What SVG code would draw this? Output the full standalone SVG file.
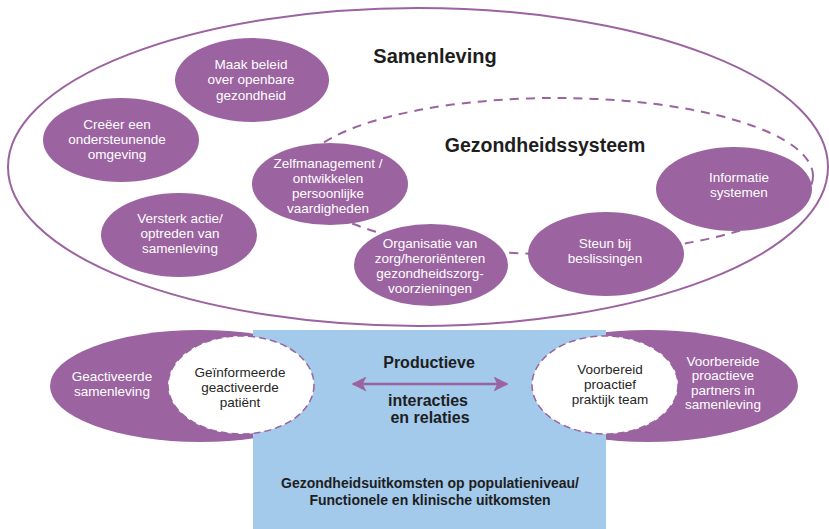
<svg xmlns="http://www.w3.org/2000/svg" width="829" height="529" viewBox="0 0 829 529">
  <style>
    .node { fill: #9b63a0; }
    .lbl { font-family: "Liberation Sans", Arial, sans-serif; font-size: 13.5px; fill: #ffffff; text-anchor: middle; }
    .dark { fill: #262626; }
    .title { font-family: "Liberation Sans", Arial, sans-serif; font-weight: bold; fill: #1e1e1e; text-anchor: middle; }
    .ring { fill: none; stroke: #9b63a0; stroke-width: 2; }
    .dash { fill: none; stroke: #9b63a0; stroke-width: 2; stroke-dasharray: 9 7; }
    .wdash { fill: #ffffff; stroke: #9b63a0; stroke-width: 1.5; stroke-dasharray: 7 4; }
  </style>
  <defs>
    <marker id="ah" viewBox="0 0 10 10" refX="9" refY="5" markerWidth="6" markerHeight="6" orient="auto-start-reverse" markerUnits="strokeWidth">
      <path d="M0,0 L10,5 L0,10 L2.5,5 Z" fill="#9b63a0"/>
    </marker>
  </defs>

  <rect width="829" height="529" fill="#ffffff"/>

  <!-- outer society ellipse and dashed health-system ellipse -->
  <g id="samenleving">
    <ellipse class="ring" cx="418" cy="167" rx="410" ry="159"/>
    <text class="title" x="435" y="63" font-size="20">Samenleving</text>
  </g>
  <g id="gezondheidssysteem">
    <ellipse class="dash" cx="556" cy="176" rx="257" ry="78"/>
    <text class="title" x="545" y="152" font-size="19.5">Gezondheidssysteem</text>
  </g>

  <!-- community nodes -->
  <g id="beleid">
    <ellipse class="node" cx="252" cy="80" rx="77" ry="42"/>
    <text class="lbl"><tspan x="251" y="68.5">Maak beleid</tspan><tspan x="251" y="84">over openbare</tspan><tspan x="251" y="99.5">gezondheid</tspan></text>
  </g>
  <g id="omgeving">
    <ellipse class="node" cx="121" cy="140" rx="78" ry="42"/>
    <text class="lbl"><tspan x="117" y="128.5">Creëer een</tspan><tspan x="117" y="143.5">ondersteunende</tspan><tspan x="117" y="158.5">omgeving</tspan></text>
  </g>
  <g id="zelfmanagement">
    <ellipse class="node" cx="330" cy="184" rx="78" ry="41"/>
    <text class="lbl"><tspan x="328" y="168">Zelfmanagement /</tspan><tspan x="328" y="183">ontwikkelen</tspan><tspan x="328" y="198">persoonlijke</tspan><tspan x="328" y="213">vaardigheden</tspan></text>
  </g>
  <g id="versterk">
    <ellipse class="node" cx="179" cy="235" rx="78" ry="42"/>
    <text class="lbl"><tspan x="180" y="223">Versterk actie/</tspan><tspan x="180" y="238">optreden van</tspan><tspan x="180" y="253">samenleving</tspan></text>
  </g>

  <!-- health-system nodes -->
  <g id="organisatie">
    <ellipse class="node" cx="431" cy="265" rx="77" ry="41"/>
    <text class="lbl"><tspan x="430" y="248">Organisatie van</tspan><tspan x="430" y="263">zorg/heroriënteren</tspan><tspan x="430" y="278">gezondheidszorg-</tspan><tspan x="430" y="293">voorzieningen</tspan></text>
  </g>
  <g id="steun">
    <ellipse class="node" cx="606" cy="254" rx="78" ry="42"/>
    <text class="lbl"><tspan x="605" y="248">Steun bij</tspan><tspan x="605" y="263">beslissingen</tspan></text>
  </g>
  <g id="informatie">
    <ellipse class="node" cx="734" cy="189" rx="78" ry="42"/>
    <text class="lbl"><tspan x="739" y="182">Informatie</tspan><tspan x="739" y="197">systemen</tspan></text>
  </g>

  <!-- lower band: community ellipses behind the blue interaction area -->
  <g id="geactiveerde-samenleving">
    <ellipse class="node" cx="200" cy="386" rx="150" ry="56"/>
    <text class="lbl"><tspan x="112" y="381">Geactiveerde</tspan><tspan x="112" y="396">samenleving</tspan></text>
  </g>
  <g id="partners">
    <ellipse class="node" cx="648" cy="386" rx="150" ry="56"/>
    <text class="lbl"><tspan x="723" y="366">Voorbereide</tspan><tspan x="723" y="380">proactieve</tspan><tspan x="723" y="394.5">partners in</tspan><tspan x="723" y="409">samenleving</tspan></text>
  </g>

  <g id="interacties">
    <rect x="253" y="330" width="353" height="199" fill="#a3c9eb"/>
    <text class="title" font-size="16"><tspan x="429" y="368">Productieve</tspan><tspan x="428" y="406">interacties</tspan><tspan x="430" y="423">en relaties</tspan></text>
    <text class="title" font-size="14"><tspan x="430" y="488">Gezondheidsuitkomsten op populatieniveau/</tspan><tspan x="430" y="505">Functionele en klinische uitkomsten</tspan></text>
  </g>

  <g id="patient">
    <ellipse class="wdash" cx="241" cy="385" rx="73" ry="49"/>
    <text class="lbl dark"><tspan x="240" y="377">Geïnformeerde</tspan><tspan x="240" y="392">geactiveerde</tspan><tspan x="240" y="406.5">patiënt</tspan></text>
  </g>
  <g id="praktijkteam">
    <ellipse class="wdash" cx="605" cy="385" rx="73" ry="49"/>
    <text class="lbl dark"><tspan x="610" y="374">Voorbereid</tspan><tspan x="610" y="389">proactief</tspan><tspan x="610" y="404">praktijk team</tspan></text>
  </g>

  <!-- connectors -->
  <g id="connectors">
    <line x1="353" y1="384" x2="507" y2="384" stroke="#9b63a0" stroke-width="2.5" marker-start="url(#ah)" marker-end="url(#ah)"/>
  </g>
</svg>
